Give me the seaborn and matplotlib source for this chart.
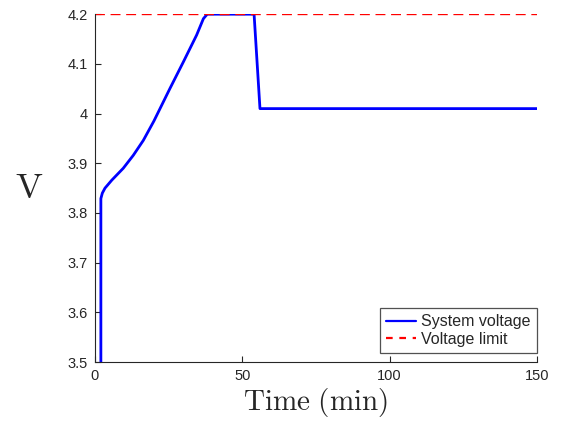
import numpy as np
import pandas as pd
import seaborn as sns
import matplotlib
matplotlib.use("Agg")
import matplotlib.pyplot as plt
from matplotlib.ticker import FuncFormatter

# system voltage (min, V)
time_min = [2.0, 2.0, 2.5, 3.4, 5.7, 9.6, 13.0, 16.4, 20.0, 25.4, 30.0, 34.5, 36.8, 38.1, 54.0, 56.0, 150.0]
voltage = [3.40, 3.829, 3.840, 3.850, 3.866, 3.890, 3.916, 3.946, 3.985, 4.050, 4.104, 4.158, 4.191, 4.200, 4.200, 4.010, 4.010]

# voltage limit
limit_t = [0, 150]
limit_v = [4.2, 4.2]

x_ticks = [0, 50, 100, 150]
y_ticks = [3.5, 3.6, 3.7, 3.8, 3.9, 4.0, 4.1, 4.2]

sns.set_style("ticks")
plt.rcParams["font.family"] = ["Liberation Sans", "DejaVu Sans"]
plt.rcParams["mathtext.fontset"] = "cm"

sys_df = pd.DataFrame({"t": time_min, "v": voltage})
lim_df = pd.DataFrame({"t": limit_t, "v": limit_v})

fig = plt.figure(figsize=(5.64, 4.30), dpi=100)
ax = fig.add_axes([0.1684, 0.158, 0.7836, 0.809])

sns.lineplot(data=sys_df, x="t", y="v", sort=False, estimator=None,
             color="#0000ff", lw=2.0, label="System voltage", ax=ax)
sns.lineplot(data=lim_df, x="t", y="v", sort=False, estimator=None,
             color="#ff0000", lw=1.7, label="Voltage limit", ax=ax)
ax.lines[1].set_dashes((4.2, 2.4))

ax.set_xlim(0, 150)
ax.set_ylim(3.5, 4.2)
ax.set_xticks(x_ticks)
ax.set_yticks(y_ticks)
ax.yaxis.set_major_formatter(FuncFormatter(lambda v, p: "%g" % round(v, 2)))
ax.tick_params(direction="in", length=4, width=0.8, colors="#262626",
               labelsize=10.5, pad=5)
for s in ["top", "right"]:
    ax.spines[s].set_visible(False)
for s in ["left", "bottom"]:
    ax.spines[s].set_color("#262626")
    ax.spines[s].set_linewidth(0.8)

ax.set_xlabel(r"$\mathrm{Time\ (min)}$", fontsize=21, labelpad=2)
ax.set_ylabel(r"$\mathrm{V}$", fontsize=26, rotation=0, labelpad=28, va="center")

leg = ax.legend(loc="lower right", bbox_to_anchor=(1.0, 0.026), fontsize=11.5,
                frameon=True, fancybox=False, borderaxespad=0.0,
                handlelength=1.9, handletextpad=0.3,
                borderpad=0.4, labelspacing=0.15)
leg.get_frame().set_edgecolor("#262626")
leg.get_frame().set_linewidth(0.9)
leg.get_lines()[0].set_linewidth(1.6)
leg.get_lines()[1].set_linewidth(1.6)
leg.get_lines()[1].set_dashes((3, 3))

fig.savefig("out.png", dpi=100)
